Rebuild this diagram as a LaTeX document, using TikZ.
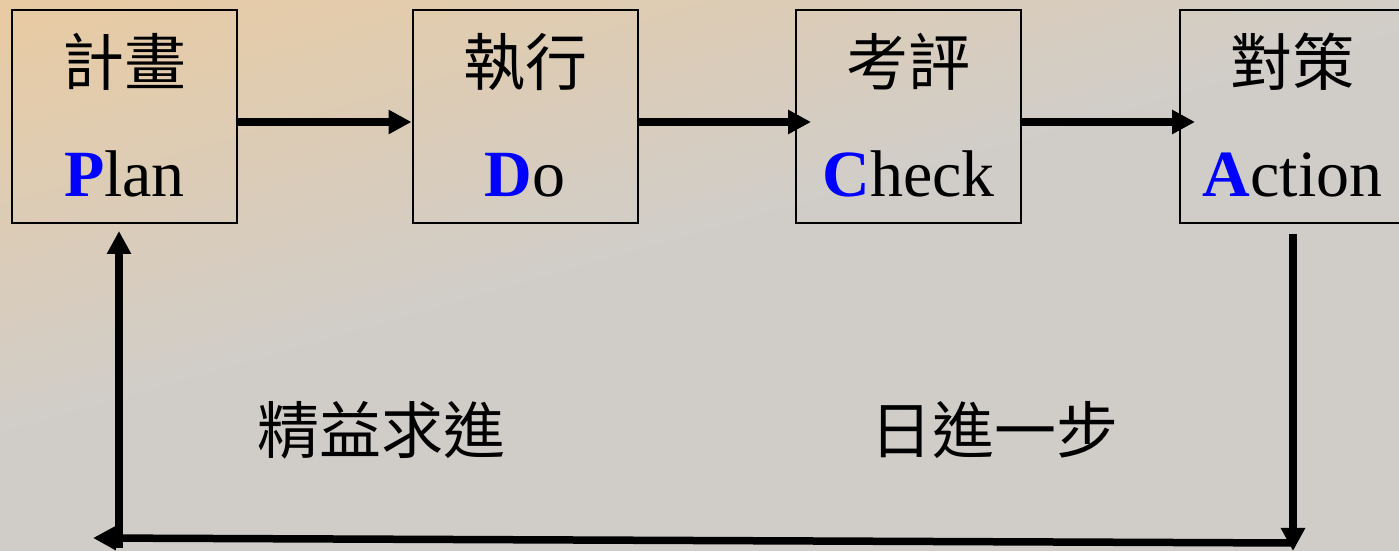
\documentclass[tikz,border=0pt]{standalone}
\usepackage{fontspec}
\setmainfont{Liberation Serif}
\newfontfamily\cjk{Noto Sans CJK TC}
\usetikzlibrary{arrows.meta}
\definecolor{bgwarm}{RGB}{233,203,162}
\definecolor{bggrey}{RGB}{208,205,201}
\definecolor{pblue}{RGB}{0,0,255}
\tikzset{
  box/.style={draw=black, line width=2pt, minimum width=225pt, minimum height=213pt, inner sep=0pt},
  zh/.style={font=\cjk\fontsize{62}{70}\selectfont, inner sep=0pt},
  en/.style={font=\fontsize{66}{72}\selectfont, inner sep=0pt, anchor=base},
  arr/.style={line width=7.5pt, -{Triangle[length=23pt,width=23pt]}},
}
\newcommand{\bl}[1]{{\bfseries\color{pblue}#1}}
\begin{document}
\begin{tikzpicture}[x=1pt,y=1pt]
\useasboundingbox (0,0) rectangle (1399,551);
\begin{scope}
  \clip (0,0) rectangle (1399,551);
  \fill[bggrey] (0,0) rectangle (1399,551);
  \begin{scope}[transform canvas={shift={(0,110)},rotate=16}]
    \shade[bottom color=bggrey, top color=bgwarm] (-300,0) rectangle (2100,424);
    \fill[bgwarm] (-300,424) rectangle (2100,700);
  \end{scope}
\end{scope}

\node[box] (plan)   at (124.5,434.5) {};
\node[box] (do)     at (525,434.5) {};
\node[box] (check)  at (908.5,434.5) {};
\node[box] (action) at (1292.5,434.5) {};

\node[zh] (planzh)   at (124.5,489) {計畫};
\node[zh] (dozh)     at (525,489) {執行};
\node[zh] (checkzh)  at (908.5,489) {考評};
\node[zh] (actionzh) at (1292.5,489) {對策};

\node[en] (planen)   at (124.5,354) {\bl{P}lan};
\node[en] (doen)     at (525,354) {\bl{D}o};
\node[en] (checken)  at (908.5,354) {\bl{C}heck};
\node[en] (actionen) at (1292.5,354) {\bl{A}ction};

\draw[arr] ([yshift=-5.5pt]plan.east) -- ([yshift=-5.5pt]do.west);
\draw[arr] ([yshift=-5.5pt]do.east) -- ([xshift=16pt,yshift=-5.5pt]check.west);
\draw[arr] ([yshift=-5.5pt]check.east) -- ([xshift=16pt,yshift=-5.5pt]action.west);

\coordinate (rtop) at (1293,317);
\coordinate (rbot) at (1293,0);
\coordinate (hr) at (1293,8);
\coordinate (hl) at (93,13);
\coordinate (lbot) at (119,3);

\draw[arr] (rtop) -- (rbot);
\draw[arr] (hr) -- (hl);
\draw[arr] (lbot) -- ([xshift=-5.5pt,yshift=-7pt]plan.south);

\node[zh] (t1) at (381,121) {精益求進};
\node[zh] (t2) at (994,121) {日進一步};
\end{tikzpicture}
\end{document}
